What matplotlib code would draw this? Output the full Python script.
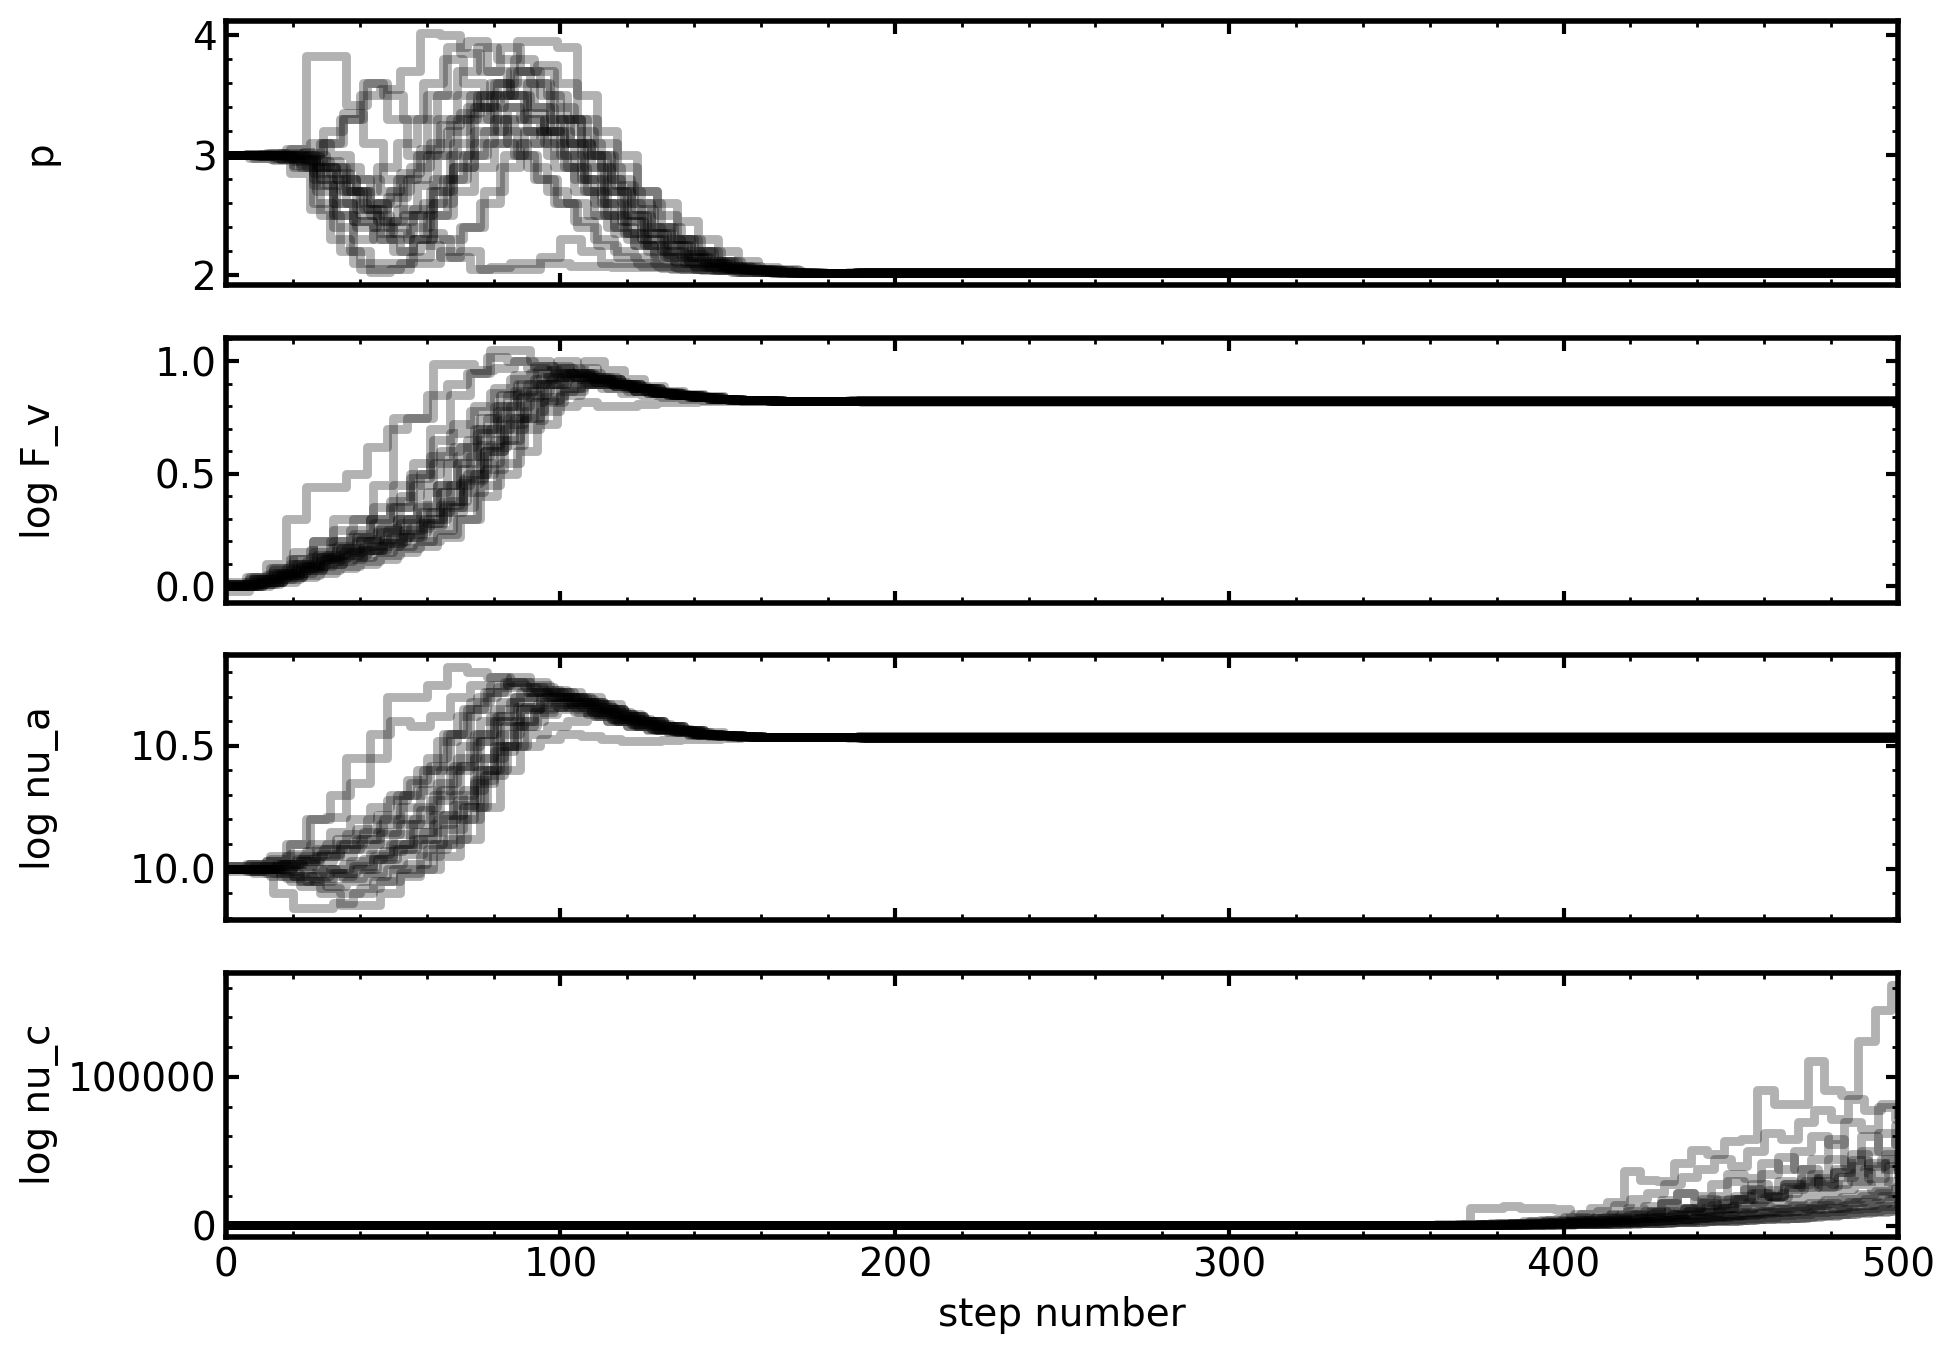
import matplotlib
matplotlib.use("Agg")
import matplotlib.pyplot as plt
from matplotlib.ticker import MultipleLocator, AutoMinorLocator

# ---------------- data ----------------
labels = ["p", "log F_v", "log nu_a", "log nu_c"]
n_steps = 500

# burn-in sample steps for the first three parameters
burn_steps = [0, 6, 12, 18, 24, 30, 36, 42, 48, 54, 60, 66, 72, 78, 84, 90,
              96, 102, 108, 114, 120, 126, 132, 138, 144, 150, 156, 162, 168, 174, 180]
# step at which each walker's proposals get accepted is not shared: per-walker lag
walker_lag = [0, 2, 4, 1, 3, 5, 2, 0, 4, 1, 5, 3, 1, 4, 0, 2, 5, 3, 2, 4]

p_chains = [
    [3.0,3.0,3.01,3.05,3.83,3.83,3.42,3.6,3.3,3.0,3.5,3.9,3.95,3.7,3.5,3.2,3.0,2.9,2.7,2.5,2.35,2.25,2.18,2.12,2.08,2.05,2.04,2.03,2.025,2.02,2.02],
    [3.0,2.99,2.98,2.9,2.6,2.4,2.1,2.1,2.1,2.3,2.6,2.9,3.2,3.5,3.6,3.4,3.1,2.8,2.6,2.4,2.25,2.15,2.1,2.07,2.05,2.04,2.03,2.025,2.02,2.02,2.02],
    [3.0,3.01,3.02,3.0,3.1,3.3,3.5,3.55,3.7,4.02,4.0,3.85,3.7,3.9,3.7,3.5,3.3,3.0,2.8,2.6,2.4,2.3,2.2,2.13,2.08,2.05,2.04,2.03,2.02,2.02,2.02],
    [3.0,2.98,2.97,2.85,2.55,2.3,2.2,2.03,2.05,2.15,2.3,2.15,2.05,2.07,2.1,2.1,2.1,2.08,2.08,2.07,2.07,2.07,2.05,2.05,2.04,2.03,2.03,2.02,2.02,2.02,2.02],
    [3.0,3.0,3.0,3.0,2.9,2.8,2.7,2.9,3.1,3.3,3.5,3.7,3.9,3.8,3.95,3.95,3.9,3.5,3.2,2.9,2.7,2.5,2.3,2.2,2.12,2.07,2.05,2.03,2.02,2.02,2.02],
    [3.0,3.0,2.99,2.97,2.9,2.7,2.55,2.45,2.5,2.6,2.8,3.0,3.2,3.3,3.35,3.2,3.0,2.8,2.6,2.45,2.3,2.2,2.15,2.1,2.07,2.05,2.04,2.03,2.025,2.02,2.02],
    [3.0,3.0,3.0,2.95,2.85,2.6,2.45,2.4,2.35,2.5,2.7,2.9,3.1,3.3,3.2,3.1,2.9,2.7,2.5,2.35,2.25,2.18,2.12,2.08,2.06,2.05,2.04,2.03,2.02,2.02,2.02],
    [3.0,3.01,3.0,2.98,3.0,2.9,2.7,2.6,2.4,2.3,2.5,2.8,3.0,3.1,3.4,3.6,3.5,3.3,3.0,2.7,2.5,2.35,2.25,2.15,2.1,2.06,2.04,2.03,2.02,2.02,2.02],
    [3.0,2.99,2.97,2.93,2.8,2.7,2.5,2.3,2.2,2.25,2.15,2.2,2.05,2.05,2.05,2.15,2.3,2.2,2.1,2.1,2.08,2.06,2.05,2.04,2.04,2.03,2.03,2.02,2.02,2.02,2.02],
    [3.0,3.0,3.02,3.05,3.1,3.0,2.8,2.6,2.7,2.9,3.1,3.3,3.5,3.6,3.5,3.4,3.2,3.1,3.0,2.8,2.6,2.4,2.3,2.2,2.12,2.08,2.05,2.04,2.03,2.02,2.02],
    [3.0,3.0,3.0,3.02,3.1,3.3,3.6,3.5,3.3,3.6,3.8,3.6,3.4,3.5,3.3,3.1,2.9,2.7,2.5,2.35,2.25,2.15,2.1,2.07,2.05,2.04,2.03,2.025,2.02,2.02,2.02],
    [3.0,2.99,2.98,2.96,2.7,2.5,2.4,2.6,2.8,3.0,3.3,3.5,3.4,3.2,3.0,2.8,2.6,2.4,2.25,2.15,2.1,2.08,2.06,2.05,2.04,2.03,2.03,2.02,2.02,2.02,2.02],
    [3.0,3.0,3.0,2.98,2.95,2.85,2.7,2.5,2.3,2.4,2.7,3.0,3.3,3.5,3.7,3.6,3.3,3.1,2.9,2.7,2.5,2.35,2.25,2.15,2.1,2.06,2.04,2.03,2.02,2.02,2.02],
    [3.0,2.99,2.97,2.9,2.5,2.2,2.05,2.05,2.1,2.1,2.2,2.4,2.6,2.9,3.1,3.2,3.3,3.1,2.9,2.7,2.6,2.4,2.3,2.2,2.12,2.08,2.05,2.04,2.03,2.02,2.02],
    [3.0,3.01,3.02,3.0,2.9,2.75,2.6,2.55,2.65,2.8,3.0,3.2,3.4,3.3,3.1,2.9,2.7,2.6,2.5,2.4,2.3,2.2,2.15,2.1,2.07,2.05,2.04,2.03,2.02,2.02,2.02],
    [3.0,3.0,2.99,2.97,2.8,2.5,2.3,2.35,2.45,2.55,2.8,3.1,3.4,3.6,3.8,3.7,3.4,3.2,3.0,2.75,2.55,2.4,2.3,2.2,2.12,2.07,2.05,2.04,2.03,2.02,2.02],
    [3.0,3.0,3.01,3.03,3.2,3.35,3.1,2.8,2.5,2.35,2.3,2.4,2.7,3.0,3.2,3.3,3.1,2.9,2.7,2.5,2.35,2.25,2.18,2.12,2.08,2.05,2.04,2.03,2.02,2.02,2.02],
    [3.0,3.0,3.0,2.98,2.9,2.8,2.55,2.45,2.55,2.75,3.0,3.3,3.5,3.6,3.7,3.75,3.6,3.3,3.1,3.0,2.7,2.6,2.45,2.3,2.2,2.12,2.07,2.05,2.03,2.02,2.02],
    [3.0,2.98,2.96,2.92,2.75,2.6,2.45,2.3,2.2,2.3,2.5,2.7,2.9,3.1,3.0,2.8,2.6,2.45,2.3,2.2,2.15,2.1,2.07,2.05,2.04,2.03,2.03,2.02,2.02,2.02,2.02],
    [3.0,3.0,3.0,2.99,2.95,2.9,2.8,2.7,2.85,3.05,3.25,3.35,3.5,3.4,3.3,3.2,3.0,2.8,2.6,2.45,2.3,2.2,2.14,2.1,2.06,2.04,2.03,2.03,2.02,2.02,2.02],
]
p_final = [2.02, 2.025, 2.015, 2.02, 2.03, 2.018, 2.022, 2.02, 2.026, 2.016,
           2.021, 2.024, 2.019, 2.02, 2.028, 2.017, 2.023, 2.02, 2.025, 2.019]

fv_chains = [
    [0.0,0.04,0.1,0.3,0.44,0.44,0.5,0.62,0.7,0.75,0.85,0.9,0.95,1.02,1.0,0.97,0.94,0.92,0.9,0.88,0.87,0.86,0.85,0.84,0.835,0.83,0.827,0.825,0.825,0.825,0.825],
    [0.01,0.03,0.06,0.1,0.2,0.25,0.3,0.45,0.75,0.75,0.99,0.99,0.96,0.97,1.0,0.98,0.95,0.93,0.91,0.89,0.87,0.86,0.85,0.84,0.835,0.83,0.827,0.825,0.825,0.825,0.825],
    [0.0,0.01,0.03,0.05,0.07,0.09,0.11,0.14,0.17,0.2,0.22,0.3,0.45,0.55,0.7,0.78,0.85,0.9,0.88,0.86,0.85,0.84,0.835,0.83,0.827,0.825,0.825,0.825,0.825,0.825,0.825],
    [-0.02,0.0,0.04,0.07,0.1,0.13,0.15,0.18,0.22,0.26,0.33,0.45,0.58,0.7,0.8,0.87,0.92,0.95,0.93,0.9,0.88,0.86,0.85,0.84,0.835,0.83,0.827,0.825,0.825,0.825,0.825],
    [0.01,0.03,0.06,0.1,0.14,0.18,0.22,0.25,0.3,0.36,0.45,0.55,0.68,0.78,0.86,0.9,0.93,0.94,0.92,0.9,0.88,0.865,0.85,0.84,0.835,0.83,0.827,0.825,0.825,0.825,0.825],
    [0.0,0.02,0.04,0.07,0.1,0.12,0.16,0.19,0.23,0.28,0.35,0.47,0.6,0.72,0.82,0.9,0.95,1.0,0.96,0.92,0.89,0.87,0.855,0.845,0.835,0.83,0.827,0.825,0.825,0.825,0.825],
    [0.02,0.04,0.07,0.12,0.15,0.2,0.23,0.28,0.35,0.45,0.55,0.62,0.7,0.8,0.87,0.92,0.95,0.93,0.91,0.89,0.87,0.86,0.85,0.84,0.835,0.83,0.827,0.825,0.825,0.825,0.825],
    [0.0,0.01,0.03,0.06,0.09,0.12,0.14,0.16,0.2,0.24,0.3,0.38,0.5,0.62,0.75,0.85,0.9,0.92,0.92,0.9,0.88,0.86,0.85,0.84,0.835,0.83,0.827,0.825,0.825,0.825,0.825],
    [0.01,0.02,0.05,0.09,0.13,0.16,0.2,0.26,0.4,0.5,0.6,0.62,0.75,0.85,0.9,0.93,0.97,0.95,0.92,0.9,0.88,0.86,0.85,0.84,0.835,0.83,0.827,0.825,0.825,0.825,0.825],
    [0.0,0.03,0.06,0.1,0.13,0.17,0.22,0.3,0.35,0.5,0.7,0.85,0.95,1.05,1.05,1.0,0.98,0.95,0.92,0.9,0.88,0.86,0.85,0.84,0.835,0.83,0.827,0.825,0.825,0.825,0.825],
    [0.0,0.02,0.05,0.08,0.12,0.15,0.18,0.21,0.25,0.3,0.38,0.48,0.6,0.7,0.78,0.84,0.88,0.9,0.9,0.88,0.87,0.86,0.85,0.84,0.835,0.83,0.827,0.825,0.825,0.825,0.825],
    [0.0,0.01,0.02,0.04,0.06,0.08,0.1,0.12,0.15,0.18,0.23,0.3,0.4,0.5,0.6,0.72,0.8,0.82,0.8,0.8,0.81,0.82,0.82,0.823,0.825,0.825,0.825,0.825,0.825,0.825,0.825],
    [0.01,0.04,0.08,0.12,0.16,0.2,0.25,0.3,0.38,0.48,0.58,0.68,0.78,0.86,0.92,0.95,0.96,0.94,0.92,0.9,0.88,0.865,0.85,0.84,0.835,0.83,0.827,0.825,0.825,0.825,0.825],
    [0.0,0.02,0.05,0.08,0.11,0.14,0.16,0.18,0.22,0.28,0.36,0.46,0.55,0.65,0.75,0.83,0.88,0.91,0.92,0.9,0.88,0.86,0.85,0.84,0.835,0.83,0.827,0.825,0.825,0.825,0.825],
    [0.0,0.02,0.05,0.08,0.11,0.14,0.17,0.2,0.25,0.3,0.42,0.55,0.65,0.75,0.85,0.9,0.93,0.95,0.93,0.91,0.89,0.87,0.855,0.845,0.835,0.83,0.827,0.825,0.825,0.825,0.825],
    [0.0,0.03,0.08,0.15,0.2,0.3,0.3,0.35,0.45,0.55,0.65,0.72,0.8,0.88,0.94,0.98,0.97,0.95,0.92,0.9,0.88,0.86,0.85,0.84,0.835,0.83,0.827,0.825,0.825,0.825,0.825],
    [0.01,0.02,0.04,0.07,0.1,0.13,0.16,0.19,0.22,0.27,0.33,0.42,0.52,0.63,0.74,0.82,0.87,0.9,0.91,0.89,0.87,0.86,0.85,0.84,0.835,0.83,0.827,0.825,0.825,0.825,0.825],
    [0.0,0.02,0.05,0.08,0.12,0.16,0.2,0.24,0.3,0.35,0.45,0.58,0.7,0.8,0.9,0.96,1.0,0.97,0.93,0.9,0.88,0.86,0.85,0.84,0.835,0.83,0.827,0.825,0.825,0.825,0.825],
    [0.0,0.01,0.03,0.06,0.09,0.11,0.13,0.15,0.18,0.2,0.25,0.35,0.5,0.65,0.75,0.82,0.87,0.9,0.9,0.89,0.87,0.86,0.85,0.84,0.835,0.83,0.827,0.825,0.825,0.825,0.825],
    [0.01,0.03,0.06,0.09,0.13,0.17,0.21,0.24,0.28,0.33,0.42,0.52,0.63,0.74,0.84,0.9,0.93,0.93,0.92,0.9,0.88,0.865,0.85,0.84,0.835,0.83,0.827,0.825,0.825,0.825,0.825],
]
fv_final = [0.824, 0.826, 0.822, 0.825, 0.828, 0.823, 0.825, 0.827, 0.821, 0.826,
            0.824, 0.823, 0.827, 0.825, 0.822, 0.826, 0.824, 0.828, 0.825, 0.823]

nua_chains = [
    [10.0,10.01,10.03,10.1,10.2,10.21,10.45,10.45,10.7,10.7,10.75,10.82,10.8,10.78,10.75,10.72,10.7,10.66,10.63,10.6,10.58,10.57,10.56,10.55,10.545,10.54,10.537,10.535,10.535,10.535,10.535],
    [10.0,9.98,9.9,9.84,9.84,9.86,9.9,9.95,10.0,10.0,10.1,10.2,10.35,10.5,10.6,10.65,10.66,10.64,10.62,10.6,10.58,10.565,10.555,10.545,10.54,10.537,10.535,10.535,10.535,10.535,10.535],
    [10.0,10.0,9.97,9.93,9.9,9.85,9.85,9.9,9.97,10.05,10.1,10.2,10.4,10.55,10.65,10.7,10.72,10.7,10.67,10.63,10.6,10.58,10.565,10.55,10.545,10.54,10.537,10.535,10.535,10.535,10.535],
    [10.01,10.02,10.04,10.06,10.1,10.15,10.2,10.25,10.3,10.35,10.42,10.55,10.68,10.75,10.78,10.75,10.72,10.7,10.67,10.64,10.61,10.59,10.57,10.555,10.545,10.54,10.537,10.535,10.535,10.535,10.535],
    [10.0,10.0,10.01,10.02,10.0,9.98,10.0,10.04,10.08,10.12,10.2,10.28,10.4,10.5,10.58,10.63,10.65,10.64,10.62,10.6,10.58,10.565,10.555,10.545,10.54,10.537,10.535,10.535,10.535,10.535,10.535],
    [9.99,10.0,10.02,10.05,10.08,10.1,10.15,10.2,10.3,10.4,10.55,10.65,10.72,10.76,10.74,10.72,10.7,10.68,10.65,10.62,10.6,10.58,10.565,10.555,10.545,10.54,10.537,10.535,10.535,10.535,10.535],
    [10.0,10.01,10.0,9.97,9.95,9.97,10.0,10.05,10.1,10.15,10.22,10.3,10.45,10.6,10.7,10.74,10.72,10.69,10.66,10.63,10.6,10.58,10.565,10.55,10.545,10.54,10.537,10.535,10.535,10.535,10.535],
    [10.0,9.99,9.98,9.96,9.95,9.93,9.95,9.97,10.0,10.02,10.08,10.12,10.25,10.4,10.5,10.55,10.58,10.6,10.62,10.6,10.58,10.565,10.555,10.545,10.54,10.537,10.535,10.535,10.535,10.535,10.535],
    [10.0,10.0,10.02,10.04,10.06,10.1,10.12,10.18,10.25,10.32,10.4,10.5,10.6,10.68,10.72,10.73,10.7,10.68,10.65,10.62,10.6,10.58,10.565,10.55,10.545,10.54,10.537,10.535,10.535,10.535,10.535],
    [10.0,10.02,10.05,10.1,10.2,10.3,10.35,10.55,10.6,10.58,10.62,10.7,10.75,10.78,10.76,10.72,10.7,10.67,10.64,10.61,10.59,10.57,10.56,10.55,10.545,10.54,10.537,10.535,10.535,10.535,10.535],
    [10.0,10.0,9.99,9.98,10.0,10.02,10.04,10.07,10.1,10.15,10.22,10.32,10.45,10.58,10.66,10.7,10.7,10.68,10.65,10.62,10.6,10.58,10.565,10.55,10.545,10.54,10.537,10.535,10.535,10.535,10.535],
    [10.0,10.0,10.01,10.03,10.05,10.08,10.12,10.15,10.2,10.25,10.35,10.45,10.55,10.62,10.66,10.67,10.66,10.65,10.63,10.6,10.58,10.565,10.555,10.545,10.54,10.537,10.535,10.535,10.535,10.535,10.535],
    [10.0,9.99,9.97,9.95,9.97,10.0,10.03,10.06,10.1,10.18,10.28,10.4,10.52,10.62,10.68,10.7,10.69,10.67,10.64,10.61,10.59,10.57,10.56,10.55,10.545,10.54,10.537,10.535,10.535,10.535,10.535],
    [10.0,10.0,9.98,9.95,9.92,9.9,9.92,9.95,9.98,10.0,10.05,10.12,10.25,10.4,10.5,10.53,10.55,10.54,10.53,10.52,10.52,10.525,10.53,10.53,10.532,10.535,10.535,10.535,10.535,10.535,10.535],
    [10.01,10.02,10.03,10.05,10.07,10.1,10.14,10.2,10.28,10.36,10.45,10.55,10.65,10.72,10.76,10.76,10.73,10.7,10.67,10.64,10.61,10.59,10.57,10.555,10.545,10.54,10.537,10.535,10.535,10.535,10.535],
    [10.0,10.0,10.0,10.01,10.03,10.05,10.08,10.1,10.14,10.2,10.3,10.42,10.55,10.65,10.7,10.71,10.7,10.68,10.66,10.63,10.6,10.58,10.565,10.55,10.545,10.54,10.537,10.535,10.535,10.535,10.535],
    [10.0,10.01,10.02,10.0,9.98,9.96,9.98,10.02,10.06,10.1,10.16,10.25,10.38,10.5,10.6,10.66,10.68,10.67,10.65,10.62,10.6,10.58,10.565,10.55,10.545,10.54,10.537,10.535,10.535,10.535,10.535],
    [10.0,10.0,10.02,10.04,10.08,10.12,10.16,10.22,10.3,10.4,10.52,10.62,10.7,10.74,10.74,10.72,10.7,10.68,10.65,10.62,10.6,10.58,10.565,10.55,10.545,10.54,10.537,10.535,10.535,10.535,10.535],
    [10.0,9.99,9.98,9.97,9.96,9.98,10.01,10.04,10.08,10.12,10.18,10.26,10.36,10.48,10.58,10.64,10.67,10.66,10.64,10.61,10.59,10.57,10.56,10.55,10.545,10.54,10.537,10.535,10.535,10.535,10.535],
    [10.01,10.01,10.02,10.03,10.05,10.08,10.1,10.14,10.18,10.24,10.32,10.42,10.52,10.6,10.65,10.68,10.68,10.66,10.63,10.61,10.59,10.57,10.56,10.55,10.545,10.54,10.537,10.535,10.535,10.535,10.535],
]
nua_final = [10.535, 10.538, 10.532, 10.536, 10.54, 10.533, 10.535, 10.537, 10.531, 10.536,
             10.534, 10.533, 10.538, 10.535, 10.532, 10.537, 10.534, 10.539, 10.535, 10.533]

# nu_c: flat until ~340, then walkers wander upward (values in thousands)
nuc_steps = [0, 337, 342, 347, 352, 357, 362, 367, 372, 377, 382, 387, 392, 397, 402, 407,
             412, 417, 422, 427, 432, 437, 442, 447, 452, 457, 462, 467, 472, 477, 482, 487, 492, 497]
nuc_lag = [0, 1, 3, 2, 4, 0, 2, 1, 3, 4, 2, 0, 1, 3, 4, 2, 0, 3, 1, 2]
nuc_chains_k = [
    [0.5,0.5,0.5,0.6,0.7,0.8,1.0,1.2,12,12,13,12,12,11,6,5,6,8,7,9,8,10,9,12,11,13,12,14,12,15,14,16,15,18],
    [0.5,0.5,0.5,0.5,0.5,0.6,0.7,0.9,1.1,1.5,2,3,4,5,8,12,16,37,31,30,42,51,48,57,58,91,82,82,111,91,88,124,145,162],
    [0.5,0.5,0.5,0.5,0.6,0.7,0.8,1,1.3,1.6,2,3,4,6,8,10,14,18,22,28,33,38,45,40,50,62,58,70,78,72,85,78,82,75],
    [0.5,0.5,0.5,0.5,0.5,0.6,0.7,0.8,1,1.2,1.5,2,2.5,3,4,5,7,12,9,15,22,16,20,30,24,35,46,38,45,58,42,60,50,68],
    [0.5,0.5,0.5,0.5,0.5,0.5,0.6,0.7,0.8,1,1.2,1.5,2,2.5,3,4,5,6,8,10,12,18,12,18,28,20,28,38,26,36,48,32,42,38],
    [0.5,0.5,0.5,0.5,0.5,0.5,0.5,0.6,0.7,0.8,1,1.2,1.5,2,2.5,3,3.5,4,5,6,7,8,9,10,12,14,16,18,20,22,25,28,24,30],
    [0.5,0.5,0.5,0.5,0.5,0.5,0.6,0.7,0.9,1.1,1.4,1.8,2.2,3,3.5,4,5,7,10,15,12,10,14,18,25,20,30,28,35,45,40,50,62,55],
    [0.5,0.5,0.5,0.5,0.5,0.5,0.5,0.6,0.7,0.8,0.9,1,1.2,1.4,1.7,2,2.4,2.8,3.3,4,4.8,5.5,6.5,7.5,9,10,11,13,15,17,19,21,23,25],
    [0.5,0.5,0.5,0.5,0.5,0.5,0.5,0.5,0.6,0.7,0.8,0.9,1,1.2,1.4,1.6,2,2.5,3,3.5,4,5,6,7,8,9,10,12,14,12,16,18,20,15],
    [0.5,0.5,0.5,0.5,0.5,0.5,0.6,0.7,0.8,1,1.2,1.4,1.8,2.2,2.8,3.5,4.5,5.5,7,9,11,14,17,20,18,24,28,26,32,38,44,40,48,45],
    [0.5,0.5,0.5,0.5,0.5,0.5,0.5,0.5,0.5,0.6,0.7,0.8,0.9,1,1.1,1.3,1.5,1.8,2.1,2.5,3,3.5,4,4.5,5,6,7,8,9,10,11,12,13,14],
    [0.5,0.5,0.5,0.5,0.5,0.5,0.5,0.6,0.6,0.7,0.8,1,1.2,1.5,2,2.5,3,4,5,6,8,10,12,15,18,22,19,25,30,27,33,36,30,40],
    [0.5,0.5,0.5,0.5,0.5,0.5,0.5,0.5,0.6,0.7,0.8,0.9,1,1.2,1.5,1.8,2.2,2.6,3,3.6,4.2,5,5.8,6.5,7.5,8.5,9.5,10,11,12,13,14,16,18],
    [0.5,0.5,0.5,0.5,0.5,0.5,0.5,0.5,0.5,0.5,0.6,0.7,0.8,0.9,1,1.2,1.4,1.6,1.9,2.2,2.6,3,3.5,4,4.5,5,5.5,6,7,8,9,10,11,12],
    [0.5,0.5,0.5,0.5,0.5,0.6,0.7,0.8,1,1.2,1.5,2,2.5,3,4,5,6,8,10,8,12,15,12,18,22,20,26,32,28,36,30,42,38,48],
    [0.5,0.5,0.5,0.5,0.5,0.5,0.5,0.5,0.6,0.7,0.8,0.9,1.1,1.3,1.6,1.9,2.3,2.8,3.4,4,4.8,5.6,6.5,7.5,8.5,10,11,12,14,16,18,20,22,26],
    [0.5,0.5,0.5,0.5,0.5,0.5,0.5,0.5,0.5,0.6,0.6,0.7,0.8,0.9,1,1.1,1.3,1.5,1.7,2,2.3,2.6,3,3.4,3.8,4.3,4.8,5.4,6,6.8,7.6,8.5,9.5,10],
    [0.5,0.5,0.5,0.5,0.5,0.5,0.5,0.6,0.7,0.8,1,1.2,1.5,1.8,2.2,2.7,3.3,4,5,6,7.5,9,11,13,16,19,22,26,30,28,34,38,45,35],
    [0.5,0.5,0.5,0.5,0.5,0.5,0.5,0.5,0.5,0.5,0.5,0.6,0.7,0.8,0.9,1,1.2,1.4,1.6,1.9,2.2,2.5,2.9,3.3,3.8,4.3,4.9,5.5,6.2,7,8,9,10,11],
    [0.5,0.5,0.5,0.5,0.5,0.5,0.6,0.8,1,1.3,1.7,2.2,3,4,5,6,8,10,13,17,22,20,28,35,32,42,38,50,60,55,70,65,80,72],
]

y_major = [1.0, 0.5, 0.5, 100000]

# ---------------- style ----------------
plt.rcParams.update({
    "font.family": "DejaVu Sans",
    "font.size": 14,
    "axes.linewidth": 2.0,
    "xtick.direction": "in",
    "ytick.direction": "in",
    "xtick.top": True,
    "ytick.right": True,
    "xtick.major.size": 4.5,
    "ytick.major.size": 4.5,
    "xtick.major.width": 1.5,
    "ytick.major.width": 1.5,
    "xtick.minor.size": 2.2,
    "ytick.minor.size": 2.2,
    "xtick.minor.width": 1.0,
    "ytick.minor.width": 1.0,
    "xtick.minor.visible": True,
    "ytick.minor.visible": True,
})

fig, axes = plt.subplots(4, 1, figsize=(9.77, 6.775), dpi=200, sharex=True)
fig.subplots_adjust(left=0.1157, right=0.9713, top=0.9845, bottom=0.0871, hspace=0.2)

line_kw = dict(color="k", alpha=0.3, lw=3.2, drawstyle="steps-post")

burn_sets = [(p_chains, p_final), (fv_chains, fv_final), (nua_chains, nua_final)]
for i, (chains, finals) in enumerate(burn_sets):
    ax = axes[i]
    for w, ch in enumerate(chains):
        lag = walker_lag[w]
        xs = [0] + [s + lag for s in burn_steps[1:]] + [burn_steps[-1] + 6 + lag, n_steps]
        ys = ch + [finals[w], finals[w]]
        ax.plot(xs, ys, **line_kw)

for w, ch in enumerate(nuc_chains_k):
    lag = nuc_lag[w]
    xs = [0] + [s + lag for s in nuc_steps[1:]] + [n_steps]
    ys = [v * 1000 for v in ch] + [ch[-1] * 1000]
    axes[3].plot(xs, ys, **line_kw)

for i, ax in enumerate(axes):
    ax.set_xlim(0, n_steps)
    ax.set_ylabel(labels[i])
    ax.yaxis.set_label_coords(-0.1, 0.5)
    ax.yaxis.set_major_locator(MultipleLocator(y_major[i]))
    ax.yaxis.set_minor_locator(AutoMinorLocator(5))
    ax.xaxis.set_major_locator(MultipleLocator(100))
    ax.xaxis.set_minor_locator(AutoMinorLocator(5))
    ax.tick_params(which="both", top=True, right=True, direction="in")

axes[3].ticklabel_format(axis="y", style="plain", useOffset=False)
axes[-1].set_xlabel("step number")

fig.savefig("out.png", dpi=200)
